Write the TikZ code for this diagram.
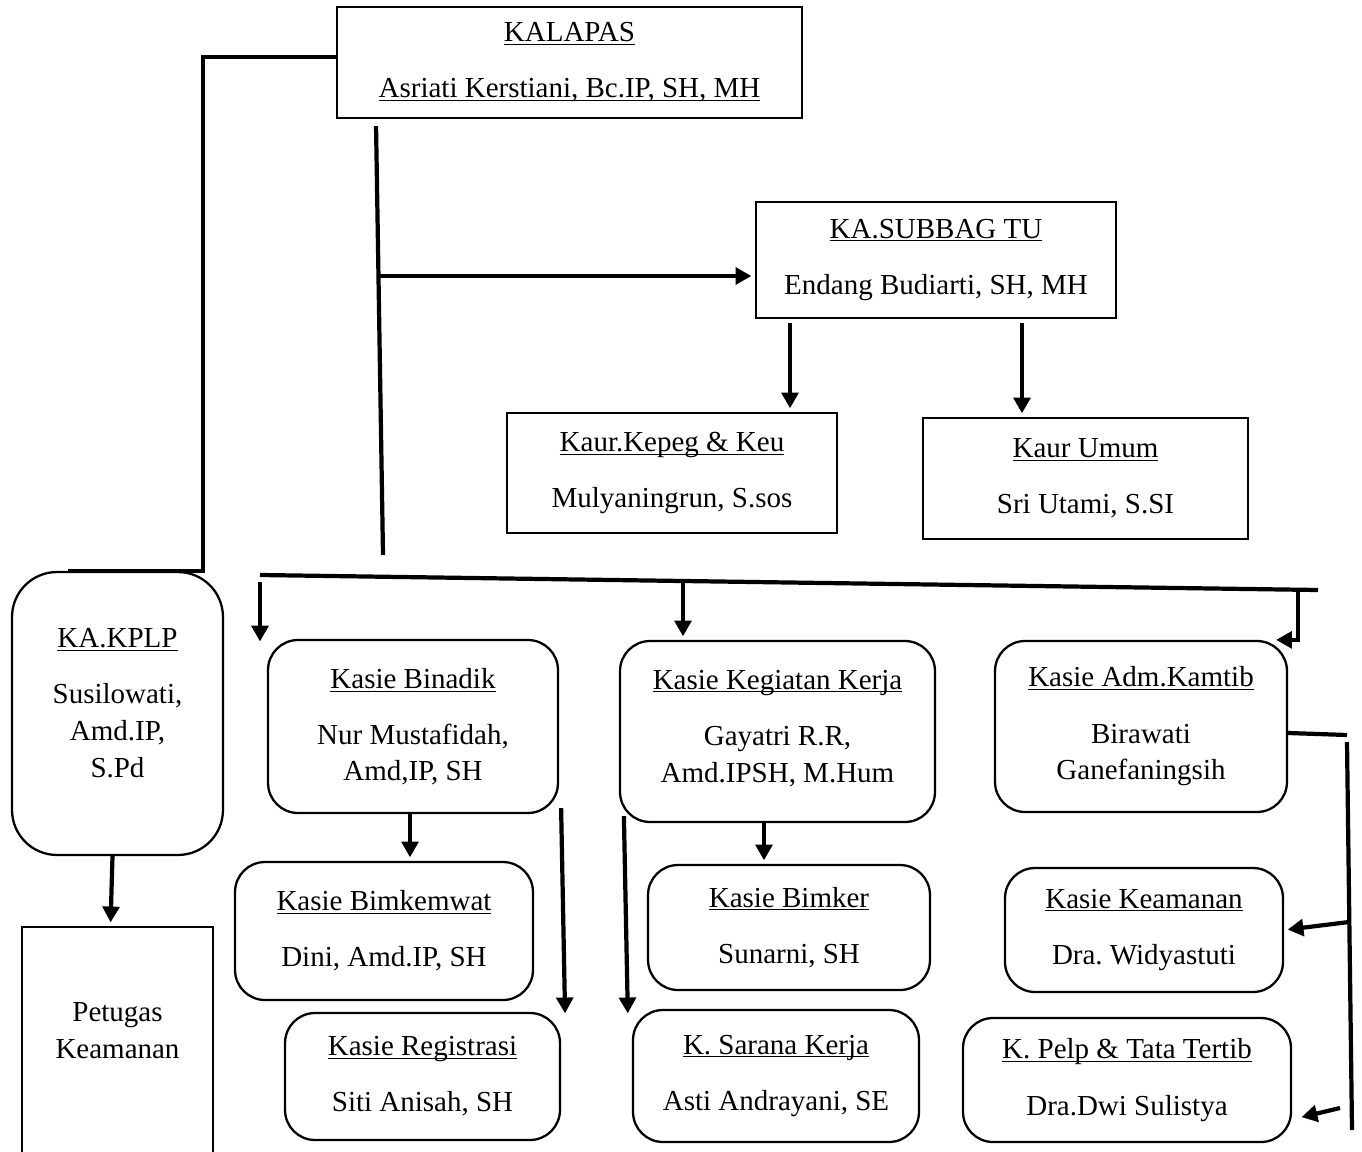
\documentclass[tikz,border=0pt]{standalone}
\usepackage{fontspec}
\setmainfont{Liberation Serif}
\usetikzlibrary{arrows.meta}
\newcommand{\ttl}[1]{\underline{\smash{#1}}\vphantom{#1}}
\frenchspacing

\begin{document}
\begin{tikzpicture}[x=0.02cm,y=-0.02cm,>={Triangle[length=9pt,width=9.5pt]},
        font=\fontsize{16.5}{32}\selectfont,
        sqbox/.style={draw,line width=1.3pt,align=center,inner sep=0pt},
        rbox/.style={sqbox,rounded corners=0.6cm},
        wire/.style={line width=2.4pt},
        wirearr/.style={wire,->,shorten >=2pt}]

  \useasboundingbox (0,0) rectangle (1362,1152);
  \clip (0,0) rectangle (1362,1152);

  \node[sqbox,minimum width=9.3cm,minimum height=2.22cm] (kalapas) at (569.5,62.5)
       {\ttl{KALAPAS}\\\ttl{Asriati Kerstiani, Bc.IP, SH, MH}};
  \node[sqbox,minimum width=7.2cm,minimum height=2.32cm] (subbag) at (936,260)
       {\ttl{KA.SUBBAG TU}\\Endang Budiarti, SH, MH};
  \node[sqbox,minimum width=6.6cm,minimum height=2.4cm] (kepeg) at (672,473)
       {\ttl{Kaur.Kepeg \& Keu}\\Mulyaningrun, S.sos};
  \node[sqbox,minimum width=6.5cm,minimum height=2.42cm] (umum) at (1085.5,478.5)
       {\ttl{Kaur Umum}\\Sri Utami, S.SI};
  \node[rbox,rounded corners=0.9cm,minimum width=4.22cm,minimum height=5.66cm,text depth=12pt] (kplp) at (117.5,713.5)
       {\ttl{KA.KPLP}\\Susilowati,\\[-11pt]Amd.IP,\\[-11pt]S.Pd};
  \node[sqbox,minimum width=3.82cm,minimum height=5.26cm,text depth=32pt] (petugas) at (117.5,1058.5)
       {Petugas\\[-11pt]Keamanan};

  \node[rbox,minimum width=5.8cm,minimum height=3.46cm] (binadik) at (413,726.5)
       {\ttl{Kasie Binadik}\\Nur Mustafidah,\\[-12pt]Amd,IP, SH};
  \node[rbox,minimum width=5.96cm,minimum height=2.76cm] (bimkemwat) at (384,931)
       {\ttl{Kasie Bimkemwat}\\Dini, Amd.IP, SH};
  \node[rbox,minimum width=5.5cm,minimum height=2.54cm] (registrasi) at (422.5,1076.5)
       {\ttl{Kasie Registrasi}\\Siti Anisah, SH};
  \node[rbox,minimum width=6.3cm,minimum height=3.62cm,text depth=6pt] (kegiatan) at (777.5,731.5)
       {\ttl{Kasie Kegiatan Kerja}\\Gayatri R.R,\\[-11pt]Amd.IPSH, M.Hum};
  \node[rbox,minimum width=5.64cm,minimum height=2.5cm] (bimker) at (789,927.5)
       {\ttl{Kasie Bimker}\\Sunarni, SH};
  \node[rbox,minimum width=5.72cm,minimum height=2.64cm] (sarana) at (776,1076)
       {\ttl{K. Sarana Kerja}\\Asti Andrayani, SE};
  \node[rbox,minimum width=5.84cm,minimum height=3.42cm] (kamtib) at (1141,726.5)
       {\ttl{Kasie Adm.Kamtib}\\Birawati\\[-11pt]Ganefaningsih};
  \node[rbox,minimum width=5.56cm,minimum height=2.48cm] (keamanan) at (1144,930)
       {\ttl{Kasie Keamanan}\\Dra. Widyastuti};
  \node[rbox,minimum width=6.56cm,minimum height=2.48cm] (pelp) at (1127,1080)
       {\ttl{K. Pelp \& Tata Tertib}\\Dra.Dwi Sulistya};

  \coordinate (trunkend) at (383,555);
  \coordinate (tjoin) at (379,276);
  \coordinate (busL) at (260,575);
  \coordinate (busR) at (1318,590);
  \coordinate (binadikin) at (260,645);
  \coordinate (busK) at (683,582);
  \coordinate (busA) at (1298,589);
  \coordinate (kside) at (1347,735);
  \coordinate (kbot) at (1352,1130);
  \coordinate (kA) at (1349,922);
  \coordinate (kB) at (1340,1108);

  \draw[wire] ([yshift=0.11cm]kalapas.west) -| ([xshift=1.71cm]kplp.north) -- ([xshift=-0.99cm]kplp.north);
  \draw[wire] ([xshift=-3.87cm,yshift=-0.14cm]kalapas.south) -- (trunkend);
  \draw[wirearr] (tjoin) -- (tjoin -| subbag.west);
  \draw[wirearr] ([xshift=-2.92cm,yshift=-0.08cm]subbag.south) -- ([xshift=-2.92cm]subbag.south |- kepeg.north);
  \draw[wirearr] ([xshift=1.72cm,yshift=-0.08cm]subbag.south) -- ([xshift=1.72cm]subbag.south |- umum.north);
  \draw[wirearr] ([xshift=-0.1cm]kplp.south) -- ([xshift=-0.14cm]petugas.north);

  \draw[wire] (busL) -- (busR);
  \draw[wirearr] ([yshift=-0.14cm]busL) -- (binadikin);
  \draw[wirearr] (busK) -- (busK |- kegiatan.north);
  \draw[wire,->] (busA) |- ([xshift=-0.24cm]kamtib.north east);

  \draw[wirearr] ([xshift=-0.06cm]binadik.south) -- ([xshift=-0.06cm]binadik.south |- bimkemwat.north);
  \draw[wirearr] ([xshift=0.04cm,yshift=0.12cm]binadik.south east) -- ([xshift=0.08cm,yshift=-0.1cm]registrasi.north east);
  \draw[wirearr] ([xshift=-0.27cm]kegiatan.south) -- ([xshift=-0.27cm]kegiatan.south |- bimker.north);
  \draw[wirearr] ([xshift=0.1cm,yshift=0.14cm]kegiatan.south west) -- ([xshift=-0.08cm,yshift=-0.16cm]sarana.north west);

  \draw[wire] ([yshift=-0.13cm]kamtib.east) -- (kside);
  \draw[wire] ([yshift=-0.14cm]kside) -- (kbot);
  \draw[wirearr] (kA) -- (keamanan.east);
  \draw[wirearr] (kB) -- ([xshift=0.12cm,yshift=-0.76cm]pelp.east);

\end{tikzpicture}
\end{document}
